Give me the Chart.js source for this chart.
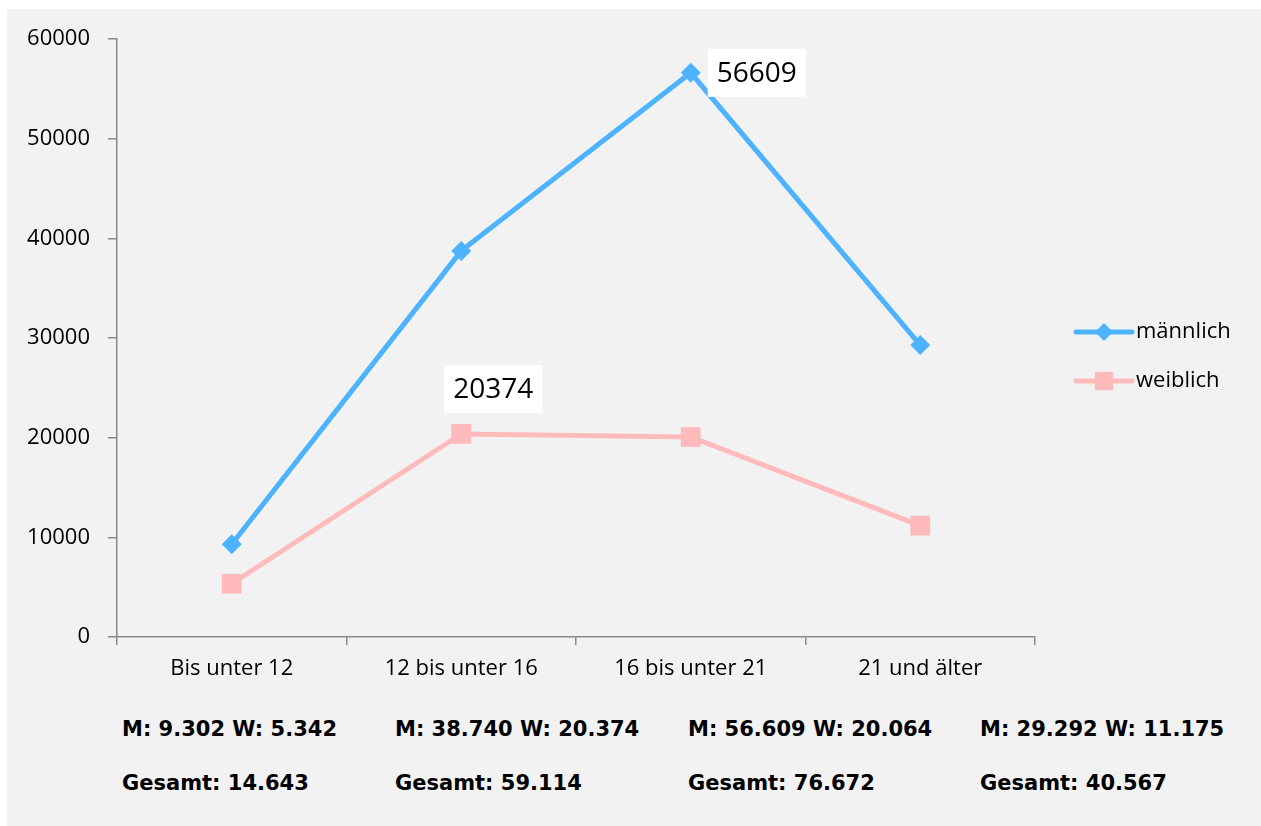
<!DOCTYPE html>
<html lang="de">
<head>
<meta charset="utf-8">
<title>Männlich / weiblich nach Altersgruppe</title>
<script src="https://cdn.jsdelivr.net/npm/chart.js@4/dist/chart.umd.min.js"></script>
<style>
  html, body { margin: 0; padding: 0; background: #fff; }
  #page { position: relative; width: 1261px; height: 826px; overflow: hidden; }
  #bg { position: absolute; left: 7px; top: 9px; right: 0; bottom: 0; background: #f2f2f2; }
  #c { position: absolute; left: 0; top: 0; }
  .sum { position: absolute; font-family: "DejaVu Sans", Verdana, sans-serif; font-weight: bold;
         font-size: 21px; color: #000; white-space: nowrap; line-height: 26px; }
</style>
</head>
<body>
<div id="page">
  <div id="bg"></div>
  <canvas id="c" width="1261" height="700"></canvas>
  <div id="sums"></div>
</div>
<script>
// data
const ageGroups = ['Bis unter 12', '12 bis unter 16', '16 bis unter 21', '21 und älter'];
const male = [9302, 38740, 56609, 29292];
const female = [5342, 20374, 20064, 11175];
const totals = [14643, 59114, 76672, 40567];
const yTicks = [0, 10000, 20000, 30000, 40000, 50000, 60000];

const blue = '#4db3ff';
const pink = '#ffbbbb';
const fontFamily = '"Open Sans", "Noto Sans", sans-serif';

// white boxes with value next to a few points
const valueLabels = {
  id: 'valueLabels',
  afterDatasetsDraw(chart, args, opts) {
    const ctx = chart.ctx;
    ctx.save();
    ctx.font = '28px ' + fontFamily;
    ctx.textBaseline = 'middle';
    ctx.textAlign = 'left';
    opts.items.forEach(it => {
      const pt = chart.getDatasetMeta(it.dataset).data[it.index];
      const text = String(chart.data.datasets[it.dataset].data[it.index]);
      const w = ctx.measureText(text).width + 18;
      const h = 48;
      const cx = pt.x + it.dx, cy = pt.y + it.dy;
      ctx.fillStyle = '#fff';
      ctx.fillRect(cx - w / 2, cy - h / 2, w, h);
      ctx.fillStyle = '#000';
      ctx.fillText(text, cx - w / 2 + 9, cy + 1);
    });
    ctx.restore();
  }
};

// legend on the right: line + marker + name
const sideLegend = {
  id: 'sideLegend',
  afterDraw(chart, args, opts) {
    const ctx = chart.ctx;
    ctx.save();
    chart.data.datasets.forEach((ds, i) => {
      const y = opts.top + i * opts.gap;
      ctx.strokeStyle = ds.borderColor;
      ctx.lineWidth = 5;
      ctx.lineCap = 'round';
      ctx.beginPath();
      ctx.moveTo(opts.left, y);
      ctx.lineTo(opts.left + 56, y);
      ctx.stroke();
      ctx.fillStyle = ds.backgroundColor;
      ctx.strokeStyle = ds.backgroundColor;
      Chart.helpers.drawPoint(ctx, {
        pointStyle: ds.pointStyle, radius: ds.pointRadius - 1, rotation: 0, borderWidth: 0
      }, opts.left + 28, y);
      ctx.fillStyle = '#000';
      ctx.font = '22px ' + fontFamily;
      ctx.textBaseline = 'middle';
      ctx.fillText(ds.label, opts.left + 60, y);
    });
    ctx.restore();
  }
};

const ctx = document.getElementById('c').getContext('2d');
const chart = new Chart(ctx, {
  type: 'line',
  data: {
    labels: ageGroups,
    datasets: [{
      label: 'männlich',
      data: male,
      borderColor: blue,
      backgroundColor: blue,
      borderWidth: 5,
      pointStyle: 'rectRot',
      pointRadius: 10,
      pointBorderWidth: 0,
      tension: 0
    }, {
      label: 'weiblich',
      data: female,
      borderColor: pink,
      backgroundColor: pink,
      borderWidth: 5,
      pointStyle: 'rect',
      pointRadius: 14,
      pointBorderWidth: 0,
      tension: 0
    }]
  },
  options: {
    responsive: false,
    animation: false,
    layout: { padding: { top: 39, right: 226, left: 0, bottom: 0 } },
    plugins: {
      legend: { display: false },
      tooltip: { enabled: false },
      valueLabels: {
        items: [
          { dataset: 0, index: 2, dx: 66, dy: 0 },
          { dataset: 1, index: 1, dx: 32, dy: -45 }
        ]
      },
      sideLegend: { left: 1076, top: 332, gap: 49 }
    },
    scales: {
      x: {
        offset: true,
        grid: { offset: true, drawOnChartArea: false, drawTicks: true, tickLength: 8, color: '#898989', lineWidth: 1.5 },
        border: { color: '#898989', width: 1.5 },
        ticks: { color: '#000', font: { family: fontFamily, size: 22 }, padding: 11 },
        afterFit: s => { s.height = 63; }
      },
      y: {
        min: 0,
        max: 60000,
        afterBuildTicks: s => { s.ticks = yTicks.map(v => ({ value: v })); },
        grid: { drawOnChartArea: false, drawTicks: true, tickLength: 9, color: '#898989', lineWidth: 1.5 },
        border: { color: '#898989', width: 1.5 },
        ticks: { color: '#000', font: { family: fontFamily, size: 22 }, padding: 18, callback: v => String(v) },
        afterFit: s => { s.width = 117; }
      }
    }
  },
  plugins: [valueLabels, sideLegend]
});

// summary lines under the chart
const fmt = n => n.toLocaleString('de-DE');
const colX = [122, 395, 688, 980];
const sums = document.getElementById('sums');
ageGroups.forEach((g, i) => {
  const a = document.createElement('div');
  a.className = 'sum';
  a.style.left = colX[i] + 'px';
  a.style.top = '716px';
  a.textContent = 'M: ' + fmt(male[i]) + ' W: ' + fmt(female[i]);
  const b = document.createElement('div');
  b.className = 'sum';
  b.style.left = colX[i] + 'px';
  b.style.top = '770px';
  b.textContent = 'Gesamt: ' + fmt(totals[i]);
  sums.appendChild(a);
  sums.appendChild(b);
});
</script>
</body>
</html>
